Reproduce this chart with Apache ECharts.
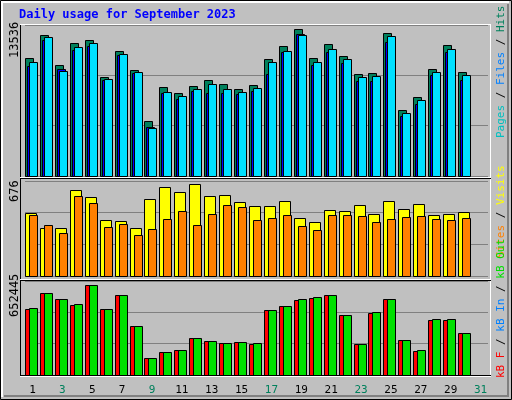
<!DOCTYPE html>
<html><head><meta charset="utf-8">
<script src="https://cdn.jsdelivr.net/npm/echarts@6/dist/echarts.min.js"></script>
<style>html,body{margin:0;padding:0;background:#fff}#c{width:512px;height:400px}</style>
</head><body><div id="c"></div>
<script>
const days = ['1','2','3','4','5','6','7','8','9','10','11','12','13','14','15','16','17','18','19','20','21','22','23','24','25','26','27','28','29','30','31'];
const weekend = ['2','3','9','10','16','17','23','24','30','31'];
const hits  = [10548,12640,9920,11893,12162,8845,11176,9472,4900,7948,7410,8038,8576,8217,7769,8128,10458,11624,13148,10548,11803,10727,9114,9203,12789,5887,7052,9562,11713,9293,null];
const files = [10189,12430,9412,11534,11892,8665,10906,9293,4273,7500,7141,7769,8217,7769,7500,7858,10189,11175,12609,10189,11354,10458,8845,8934,12520,5617,6783,9293,11354,9024,null];
const pages = [9831,12161,9562,11265,11623,8576,10817,9203,4362,7410,6872,7590,7410,7410,7321,7590,9113,11085,12699,9920,11085,10099,8486,8486,11982,5349,6424,9024,11085,8576,null];
const visits= [446,339,339,610,560,396,389,339,546,631,595,652,567,574,524,496,496,531,410,382,467,460,503,439,531,474,510,432,439,453,null];
const sites = [432,361,304,567,517,346,368,289,332,403,460,361,439,503,489,396,410,432,353,325,432,432,425,382,403,417,425,403,396,410,null];
const kbF   = [460158,570036,528828,487621,624979,460158,556300,343395,116754,157962,171698,254112,233509,219773,226641,212905,453291,480763,521960,535696,556300,418942,212905,432688,528828,240377,164830,384602,384602,288452,null];
const kbOut = [467017,570036,528828,494489,624979,460158,556300,343395,116754,157962,171698,254112,233509,219773,226641,219773,453291,480763,528828,542564,556300,418942,212905,439546,528828,240377,171698,391470,391470,288452,null];
const maxTicks = ['13536','676','652445'];
const maxVals = [13536,676,652445];

const chart = echarts.init(document.getElementById('c'));
const grids = [{top:25,h:151},{top:181,h:95},{top:281,h:94}];
function rr(x0,x1,color){
  return function(params,api){
    const v=api.value(1); if(v==null||isNaN(v))return;
    const p=api.coord([api.value(0),v]); const b=api.coord([api.value(0),0]);
    return {type:'rect',shape:{x:Math.round(p[0]+x0)+0.5,y:Math.round(p[1])+0.5,width:x1-x0,height:Math.round(b[1]-p[1])},
      style:{fill:color,stroke:'#000',lineWidth:1}};
  };
}
function ser(data,gi,x0,x1,color){
  return {type:'custom',xAxisIndex:gi,yAxisIndex:gi,renderItem:rr(x0,x1,color),
    data:data.map((v,i)=>[i,v]),clip:false};
}
const option={
  backgroundColor:'#c0c0c0',animation:false,
  grid:grids.map(g=>({left:25,right:24,top:g.top,height:g.h})),
  xAxis:grids.map((g,i)=>({type:'category',gridIndex:i,data:days,boundaryGap:true,
    axisLine:{show:false},axisTick:{show:false},
    axisLabel:{show:i===2,margin:10,fontFamily:'DejaVu Sans Mono',fontSize:11,
      color:(v)=>weekend.includes(v)?'#00805c':'#000'}})),
  yAxis:grids.map((g,i)=>({type:'value',gridIndex:i,min:0,max:maxVals[i],interval:maxVals[i]/3,
    axisLabel:{show:false},axisLine:{show:false},axisTick:{show:false},
    splitLine:{lineStyle:{color:'#808080',width:1}}})),
  series:[
    ser(hits,0,-7.5,0.5,'#00805c'),
    ser(pages,0,-5.5,2.5,'#0000ff'),
    ser(files,0,-3.5,4.5,'#00e0ff'),
    ser(visits,1,-7.5,3.5,'#ffff00'),
    ser(sites,1,-3.5,4.5,'#ff8000'),
    ser(kbF,2,-7.5,0.5,'#ff0000'),
    ser(kbOut,2,-3.5,4.5,'#00e000')
  ],
  graphic:[
    {type:'rect',shape:{x:0.5,y:0.5,width:511,height:399},style:{fill:null,stroke:'#000',lineWidth:1},z:1},
    {type:'polyline',shape:{points:[[2,397],[2,2],[509,2]]},style:{stroke:'#fff',lineWidth:2,fill:null},z:1},
    {type:'polyline',shape:{points:[[4,396],[508,396],[508,4]]},style:{stroke:'#808080',lineWidth:2,fill:null},z:1},
    {type:'text',left:19,top:9,style:{text:'Daily usage for September 2023',fill:'#0000ff',font:'bold 12px "DejaVu Sans Mono"'}},
    {type:'polyline',shape:{points:[[20.5,377],[20.5,24.5],[490.5,24.5],[490.5,377]]},style:{stroke:'#000',lineWidth:1,fill:null},z:10},
    {type:'line',shape:{x1:20,y1:24.5,x2:491,y2:24.5},style:{stroke:'#fff',lineWidth:1},z:11},
    {type:'line',shape:{x1:490.5,y1:24,x2:490.5,y2:377},style:{stroke:'#fff',lineWidth:1},z:11},
    {type:'line',shape:{x1:20,y1:177.5,x2:491,y2:177.5},style:{stroke:'#fff',lineWidth:1},z:11},
    {type:'line',shape:{x1:20,y1:178.5,x2:491,y2:178.5},style:{stroke:'#000',lineWidth:1},z:11},
    {type:'line',shape:{x1:20,y1:279.5,x2:491,y2:279.5},style:{stroke:'#fff',lineWidth:1},z:11},
    {type:'line',shape:{x1:20,y1:280.5,x2:491,y2:280.5},style:{stroke:'#000',lineWidth:1},z:11},
    {type:'line',shape:{x1:20,y1:376.5,x2:491,y2:376.5},style:{stroke:'#fff',lineWidth:1},z:11},
    {type:'line',shape:{x1:20,y1:375.5,x2:491,y2:375.5},style:{stroke:'#000',lineWidth:1},z:11},
    {type:'text',x:9,y:58,rotation:Math.PI/2,style:{text:maxTicks[0],fill:'#000',font:'12px "DejaVu Sans Mono"'}},
    {type:'text',x:9,y:202,rotation:Math.PI/2,style:{text:maxTicks[1],fill:'#000',font:'12px "DejaVu Sans Mono"'}},
    {type:'text',x:9,y:317,rotation:Math.PI/2,style:{text:maxTicks[2],fill:'#000',font:'12px "DejaVu Sans Mono"'}},
    {type:'text',x:496,y:138,rotation:Math.PI/2,style:{font:'11px "DejaVu Sans Mono"',
      text:'{a|Pages}{b| / }{c|Files}{b| / }{d|Hits}',
      rich:{a:{fill:'#00c0c0'},b:{fill:'#000'},c:{fill:'#0080ff'},d:{fill:'#00805c'}}}},
    {type:'text',x:496,y:258,rotation:Math.PI/2,style:{font:'11px "DejaVu Sans Mono"',
      text:'{a|Sites}{b| / }{c|Visits}',
      rich:{a:{fill:'#ff8000'},b:{fill:'#000'},c:{fill:'#ffff00'}}}},
    {type:'text',x:496,y:378,rotation:Math.PI/2,style:{font:'11px "DejaVu Sans Mono"',
      text:'{a|kB F}{b| / }{c|kB In}{b| / }{d|kB Out}',
      rich:{a:{fill:'#ff0000'},b:{fill:'#000'},c:{fill:'#0080ff'},d:{fill:'#00e000'}}}}
  ]
};
chart.setOption(option);
</script></body></html>
